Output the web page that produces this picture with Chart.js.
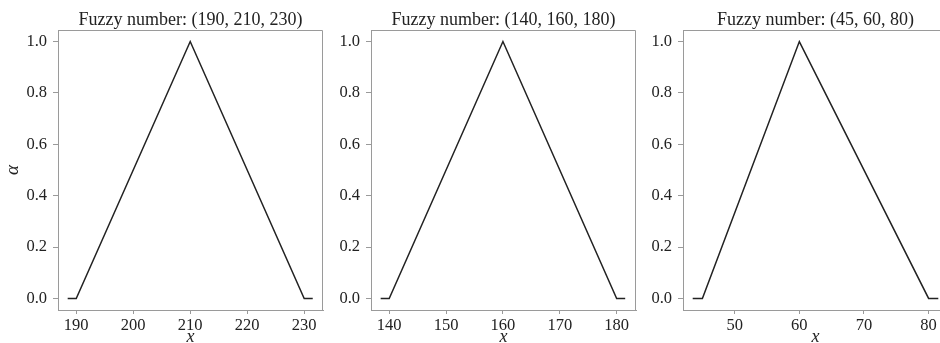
<!DOCTYPE html>
<html>
<head>
<meta charset="utf-8">
<script src="https://cdn.jsdelivr.net/npm/chart.js@4/dist/chart.umd.min.js"></script>
<style>
  html, body { margin: 0; padding: 0; background: #fff; overflow: hidden; }
  body { width: 940px; height: 343px; position: relative; }
  .panel { position: absolute; top: 0; width: 330px; height: 343px; }
</style>
</head>
<body>
<div class="panel" style="left:0px"><canvas id="c1"></canvas></div>
<div class="panel" style="left:313px"><canvas id="c2"></canvas></div>
<div class="panel" style="left:625px"><canvas id="c3"></canvas></div>
<script>
// fuzzy numbers (a, b, c) and the membership polylines drawn for each
const titles = ['Fuzzy number: (190, 210, 230)', 'Fuzzy number: (140, 160, 180)', 'Fuzzy number: (45, 60, 80)']
const alpha = [0, 0, 1, 0, 0]
const x1 = [188.5, 190, 210, 230, 231.5]
const x2 = [138.5, 140, 160, 180, 181.5]
const x3 = [43.5, 45, 60, 80, 81.5]
const xTicks1 = [190, 200, 210, 220, 230]
const xTicks2 = [140, 150, 160, 170, 180]
const xTicks3 = [50, 60, 70, 80]
const yTicks = [0, 0.2, 0.4, 0.6, 0.8, 1.0]
const xRanges = [[186.8, 233.3], [136.8, 183.4], [42.0, 83.0]]

const serif = '"Liberation Serif", "DejaVu Serif", serif'
const spine = '#9a9a9a'
const ink = '#222'

// top and right spines
const frame = {
    id: 'frame',
    afterDatasetsDraw(chart) {
        const {ctx, chartArea: a} = chart
        ctx.save()
        ctx.strokeStyle = spine
        ctx.lineWidth = 1
        ctx.beginPath()
        ctx.moveTo(a.left, a.top + 0.5)
        ctx.lineTo(a.right - 0.5, a.top + 0.5)
        ctx.lineTo(a.right - 0.5, a.bottom)
        ctx.stroke()
        ctx.restore()
    }
}

const makeChart = (id, title, xs, xTicks, range, showYTitle) => {
    const ctx = document.getElementById(id).getContext('2d')
    return new Chart(ctx, {
        type: 'line',
        data: {
            datasets: [{
                data: xs.map((x, i) => ({x: x, y: alpha[i]})),
                borderColor: ink,
                borderWidth: 1.5,
                pointRadius: 0,
                tension: 0,
                fill: false
            }]
        },
        options: {
            responsive: true,
            maintainAspectRatio: false,
            animation: false,
            layout: {padding: {top: 0, right: 7, bottom: 0, left: 0}},
            plugins: {
                legend: {display: false},
                tooltip: {enabled: false},
                title: {
                    display: true,
                    text: title,
                    fullSize: false,
                    color: ink,
                    font: {family: serif, size: 18, weight: 'normal', lineHeight: 1},
                    padding: {top: 11, bottom: 1}
                }
            },
            scales: {
                x: {
                    type: 'linear',
                    min: range[0],
                    max: range[1],
                    afterBuildTicks: (s) => { s.ticks = xTicks.map(v => ({value: v})) },
                    afterFit: (s) => { s.height = 33 },
                    grid: {drawOnChartArea: false, drawTicks: true, tickLength: 4, color: spine},
                    border: {display: true, color: spine, width: 1},
                    ticks: {color: ink, padding: 2, maxRotation: 0, font: {family: serif, size: 16.5}},
                    title: {
                        display: true,
                        text: 'x',
                        color: ink,
                        padding: {top: 0, bottom: -3},
                        font: {family: serif, size: 18, style: 'italic', lineHeight: 1}
                    }
                },
                y: {
                    type: 'linear',
                    min: -0.045,
                    max: 1.045,
                    afterBuildTicks: (s) => { s.ticks = yTicks.map(v => ({value: v})) },
                    afterFit: (s) => { s.width = 58 },
                    grid: {drawOnChartArea: false, drawTicks: true, tickLength: 5, color: spine},
                    border: {display: true, color: spine, width: 1},
                    ticks: {
                        color: ink,
                        padding: 6,
                        font: {family: serif, size: 16.5},
                        callback: (v) => Number(v).toFixed(1)
                    },
                    title: {
                        display: showYTitle,
                        text: 'α',
                        color: ink,
                        padding: {top: 2, bottom: 0},
                        font: {family: serif, size: 19, style: 'italic'}
                    }
                }
            }
        },
        plugins: [frame]
    })
}

makeChart('c1', titles[0], x1, xTicks1, xRanges[0], true)
makeChart('c2', titles[1], x2, xTicks2, xRanges[1], false)
makeChart('c3', titles[2], x3, xTicks3, xRanges[2], false)
</script>
</body>
</html>
